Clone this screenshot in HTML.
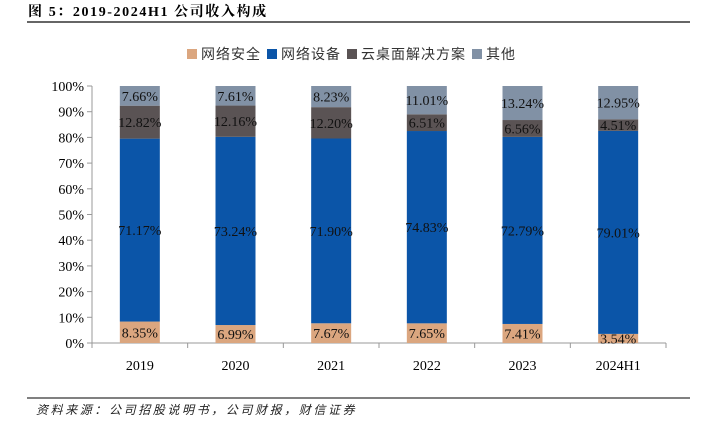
<!DOCTYPE html>
<html><head><meta charset="utf-8"><style>
body{margin:0;width:715px;height:426px;background:#fff;overflow:hidden;font-family:"Liberation Serif","Noto Serif CJK SC",serif}
</style></head><body>
<svg width="715" height="426">
<text x="28" y="16" font-size="14" font-weight="bold" letter-spacing="1.6">图 5：2019-2024H1 公司收入构成</text>
<line x1="27" y1="22" x2="690" y2="22" stroke="#333" stroke-width="1.5"/>
<g id="legend"></g>
<g id="axes"></g><g id="bars"></g>
<line x1="27" y1="398" x2="690" y2="398" stroke="#000" stroke-width="1"/>
<text x="36" y="414" font-size="12" font-style="italic" letter-spacing="2.6" font-family="'Noto Sans CJK SC',sans-serif" fill="#222">资料来源：公司招股说明书，公司财报，财信证券</text>
</svg>
<script>
const categories=["2019","2020","2021","2022","2023","2024H1"];
const seriesNames=["网络安全","网络设备","云桌面解决方案","其他"];
const netSecurity=[8.35,6.99,7.67,7.65,7.41,3.54];
const netDevice=[71.17,73.24,71.90,74.83,72.79,79.01];
const cloudDesktop=[12.82,12.16,12.20,6.51,6.56,4.51];
const other=[7.66,7.61,8.23,11.01,13.24,12.95];
const yTicks=[0,10,20,30,40,50,60,70,80,90,100];
const colors=["#dba67f","#0b55a8","#5a5354","#8191a5"];
const NS="http://www.w3.org/2000/svg";
const x0=92,x1=666,y0=343,y1=86;
const band=(x1-x0)/categories.length;
const xC=i=>x0+band*(i+0.5);
const y=v=>y0-(v/100)*(y0-y1);
function mk(t,a,p){const e=document.createElementNS(NS,t);for(const k in a)e.setAttribute(k,a[k]);p.appendChild(e);return e;}
const ax=document.getElementById('axes');
const yl=mk('line',{x1:x0,y1:y1,x2:x0,y2:y0,stroke:'#999'},ax);


const xl=mk('line',{x1:x0,y1:y0,x2:x1,y2:y0,stroke:'#999'},ax);


yTicks.forEach(t=>{
 mk('line',{x1:x0-5,x2:x0,y1:y(t),y2:y(t),stroke:'#999'},ax);
 const tx=mk('text',{x:x0-8,y:y(t)+5,'text-anchor':'end','font-size':14},ax);tx.textContent=t+'%';
 
 
});
for(let i=0;i<=categories.length;i++)mk('line',{x1:x0+band*i,x2:x0+band*i,y1:y0,y2:y0+5,stroke:'#999'},ax);
categories.forEach((c,i)=>{
 const tx=mk('text',{x:xC(i),y:y0+27,'text-anchor':'middle','font-size':14},ax);tx.textContent=c;
 
 
});
const bg=document.getElementById('bars');
const series=[netSecurity,netDevice,cloudDesktop,other];
const bw=40;
categories.forEach((c,i)=>{
 let acc=0;
 series.forEach((s,k)=>{
  const v=s[i];const top=acc+v;
  const r=mk('rect',{x:xC(i)-bw/2,y:y(Math.min(top,100)),width:bw,height:y(acc)-y(Math.min(top,100)),fill:colors[k]},bg);
  
  
  const mid=(acc+Math.min(top,100))/2;
  const lbl=mk('text',{x:xC(i),y:y(mid)+5,'text-anchor':'middle','font-size':14,fill:'#111'},bg);
  lbl.textContent=v.toFixed(2)+'%';
  
  
  acc=top;
 });
});
const lg=document.getElementById('legend');
let lx=187;
seriesNames.forEach((n,k)=>{
 const r=mk('rect',{x:lx,y:49,width:10,height:10,fill:colors[k]},lg);
 
 
 const t=mk('text',{x:lx+14,y:59,'font-size':14,'font-family':"'Noto Sans CJK SC',sans-serif",fill:'#333','letter-spacing':1},lg);t.textContent=n;
 
 
 lx+=14+n.length*15+6;
});
</script>
</body></html>
